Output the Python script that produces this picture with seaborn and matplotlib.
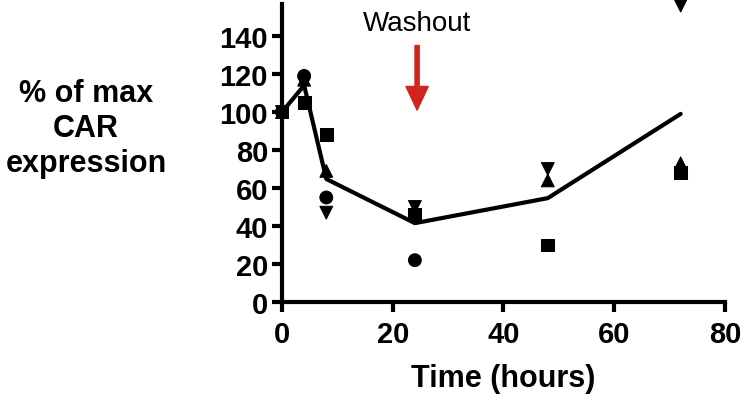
import pandas as pd
import matplotlib
matplotlib.use('Agg')
import matplotlib.pyplot as plt
import seaborn as sb

# time points (hours) and % of max CAR expression per replicate (None = no point)
time = [0, 4, 8, 24, 48, 72]
rep_circle = [100, 119, 55, 22, None, None]
rep_square = [100, 105, 88, 46, 30, 68]
rep_up = [100, 117, 69, 48, 64, 73]
rep_down = [100, 115, 47, 50, 70, 156]

rows = []
for name, vals in [('circle', rep_circle), ('square', rep_square),
                   ('up', rep_up), ('down', rep_down)]:
    for t, v in zip(time, vals):
        if v is not None:
            rows.append({'Time': t, 'Value': v, 'Rep': name})
df = pd.DataFrame(rows)

sb.set_style('ticks')
plt.rcParams['font.family'] = ['Liberation Sans', 'DejaVu Sans']
plt.rcParams['text.color'] = 'black'
plt.rcParams['axes.labelcolor'] = 'black'
plt.rcParams['xtick.color'] = 'black'
plt.rcParams['ytick.color'] = 'black'
plt.rcParams['axes.edgecolor'] = 'black'

fig = plt.figure(figsize=(7.47, 4.02), dpi=100)
ax = fig.add_axes([0.3775, 0.2463, 0.593, 0.742])

# mean line
sb.lineplot(data=df, x='Time', y='Value', errorbar=None, color='black',
            linewidth=3, ax=ax)
# individual points
sb.scatterplot(data=df, x='Time', y='Value', style='Rep',
               markers={'circle': 'o', 'square': 's', 'up': '^', 'down': 'v'},
               color='black', s=85, edgecolor='black', legend=False, ax=ax,
               clip_on=False, zorder=3)

ax.set_xlim(0, 80)
ax.set_ylim(0, 157)
ax.set_xticks([0, 20, 40, 60, 80])
ax.set_yticks(range(0, 141, 20))
ax.tick_params(labelsize=21, width=3, length=7, direction='out')
ax.tick_params(axis='x', pad=6)
ax.tick_params(axis='y', pad=3)
for lab in ax.get_xticklabels() + ax.get_yticklabels():
    lab.set_fontweight('bold')
sb.despine(ax=ax)
ax.spines['left'].set_linewidth(3)
ax.spines['bottom'].set_linewidth(3)

ax.set_xlabel('Time (hours)', fontsize=22, fontweight='bold', labelpad=11)
ax.set_ylabel('')
fig.text(0.115, 0.68, '% of max\nCAR\nexpression', fontsize=22, fontweight='bold',
         ha='center', va='center', linespacing=1.22)

# washout marker
ax.text(24.4, 147, 'Washout', fontsize=20, ha='center', va='center')
ax.annotate('', xy=(24.4, 101), xytext=(24.4, 135),
            arrowprops=dict(color='#d2231c', width=3, headwidth=16,
                            headlength=17))

plt.savefig('out.png', dpi=100)
